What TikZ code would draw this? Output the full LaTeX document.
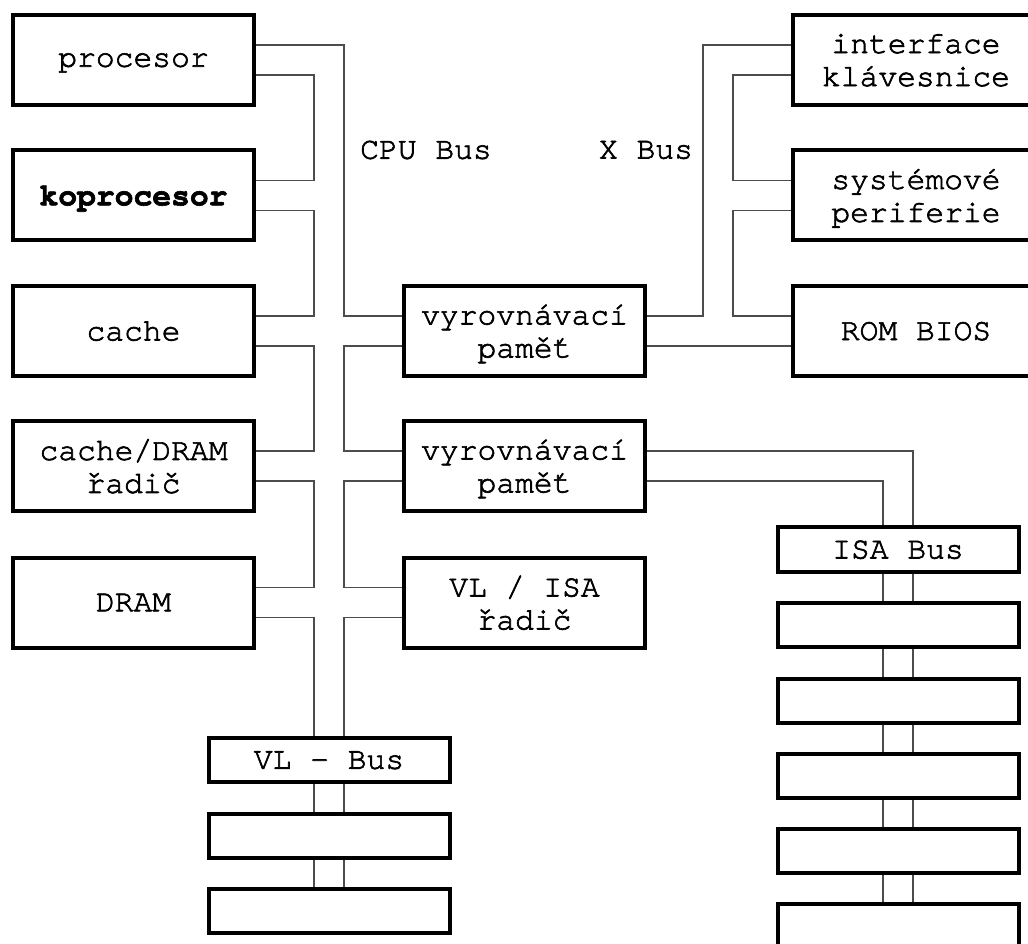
\documentclass[tikz,border=0pt]{standalone}
\usepackage{fontspec}
\setmainfont{TeX Gyre Cursor}[FakeBold=2]
\usepackage{tikz}

\tikzset{
  blok/.style={draw, line width=3pt, minimum width=180.75pt, minimum height=67.5pt,
    inner sep=0pt, align=center, text depth=0pt, font=\fontsize{23.5}{24.75}\selectfont},
  sbernice/.style={blok, minimum height=33pt},
  popis/.style={font=\fontsize{23.5}{24.75}\selectfont},
  spoj/.style={draw=black!70, line width=1pt},
}

\begin{document}
\begin{tikzpicture}[x=0.75pt,y=0.75pt,yscale=-1,xscale=1]
\clip (0,0) rectangle (1028,944);
\fill[white] (0,0) rectangle (1028,944);

% levy sloupec
\node[blok] (proc) at (133.5,60) {procesor};
\node[blok] (kopr) at (133.5,195.5) {\bfseries koprocesor};
\node[blok] (cache) at (133.5,331) {cache};
\node[blok] (radic) at (133.5,466) {cache/DRAM\\řadič};
\node[blok] (dram) at (133.5,602.5) {DRAM};
% prostredni sloupec
\node[blok] (vyr1) at (524.5,331) {vyrovnávací\\paměť};
\node[blok] (vyr2) at (524.5,466) {vyrovnávací\\paměť};
\node[blok] (vlisa) at (524.5,602.5) {VL / ISA\\řadič};
% pravy sloupec
\node[blok, minimum width=184.5pt] (klav) at (916,60) {interface\\klávesnice};
\node[blok, minimum width=184.5pt] (sysp) at (916,195.5) {systémové\\periferie};
\node[blok, minimum width=184.5pt] (bios) at (916,331) {ROM BIOS};
% VL bus
\node[sbernice] (vlbus) at (329,760) {VL - Bus};
\node[sbernice] (vl1) at (329,836) {};
\node[sbernice] (vl2) at (329,911) {};
% ISA bus
\node[sbernice] (isabus) at (898,549.5) {ISA Bus};
\foreach \i/\y in {1/625,2/700.5,3/775.5,4/850.5,5/926}
  \node[sbernice] (isa\i) at (898,\y) {};

% popisky
\node[popis] (cpubus) at (426,150) {CPU Bus};
\node[popis] (xbus) at (646,150) {X Bus};

% sbernice - svisle vedeni
\coordinate (cpuA) at (314,0);
\coordinate (cpuB) at (344,0);
\coordinate (xA) at (703,0);
\coordinate (xB) at (733,0);

% vyvody (yscale=-1, takze yshift je otoceny)
\foreach \n in {proc,kopr,cache,radic,dram,vyr1,vyr2,vlisa} {
  \coordinate (\n-h) at ([yshift=-11.25pt]\n.east);
  \coordinate (\n-d) at ([yshift=11.25pt]\n.east);
}
\foreach \n in {vyr1,vyr2,vlisa,klav,sysp,bios} {
  \coordinate (\n-hl) at ([yshift=-11.25pt]\n.west);
  \coordinate (\n-dl) at ([yshift=11.25pt]\n.west);
}

% CPU Bus
\draw[spoj] (proc-h) -- (proc-h -| cpuB) |- (vyr1-hl);
\foreach \a/\b in {proc/kopr,kopr/cache,cache/radic,radic/dram}
  \draw[spoj] (\a-d) -- (\a-d -| cpuA) |- (\b-h);
\draw[spoj] (dram-d) -| ([xshift=-11.25pt]vlbus.north);
\foreach \a/\b in {vyr1/vyr2,vyr2/vlisa}
  \draw[spoj] (\a-dl) -- (\a-dl -| cpuB) |- (\b-hl);
\draw[spoj] (vlisa-dl) -| ([xshift=11.25pt]vlbus.north);

% X Bus
\draw[spoj] (vyr1-h) -- (vyr1-h -| xA) |- (klav-hl);
\foreach \a/\b in {klav/sysp,sysp/bios}
  \draw[spoj] (\a-dl) -- (\a-dl -| xB) |- (\b-hl);
\draw[spoj] (bios-dl) -- (vyr1-d);

% ISA Bus
\draw[spoj] (vyr2-h) -| ([xshift=11.25pt]isabus.north);
\draw[spoj] (vyr2-d) -| ([xshift=-11.25pt]isabus.north);

% sloty
\foreach \a/\b in {vlbus/vl1,vl1/vl2,isabus/isa1,isa1/isa2,isa2/isa3,isa3/isa4,isa4/isa5}
  \foreach \s in {-11.25pt,11.25pt}
    \draw[spoj] ([xshift=\s]\a.south) -- ([xshift=\s]\b.north);

\end{tikzpicture}
\end{document}
